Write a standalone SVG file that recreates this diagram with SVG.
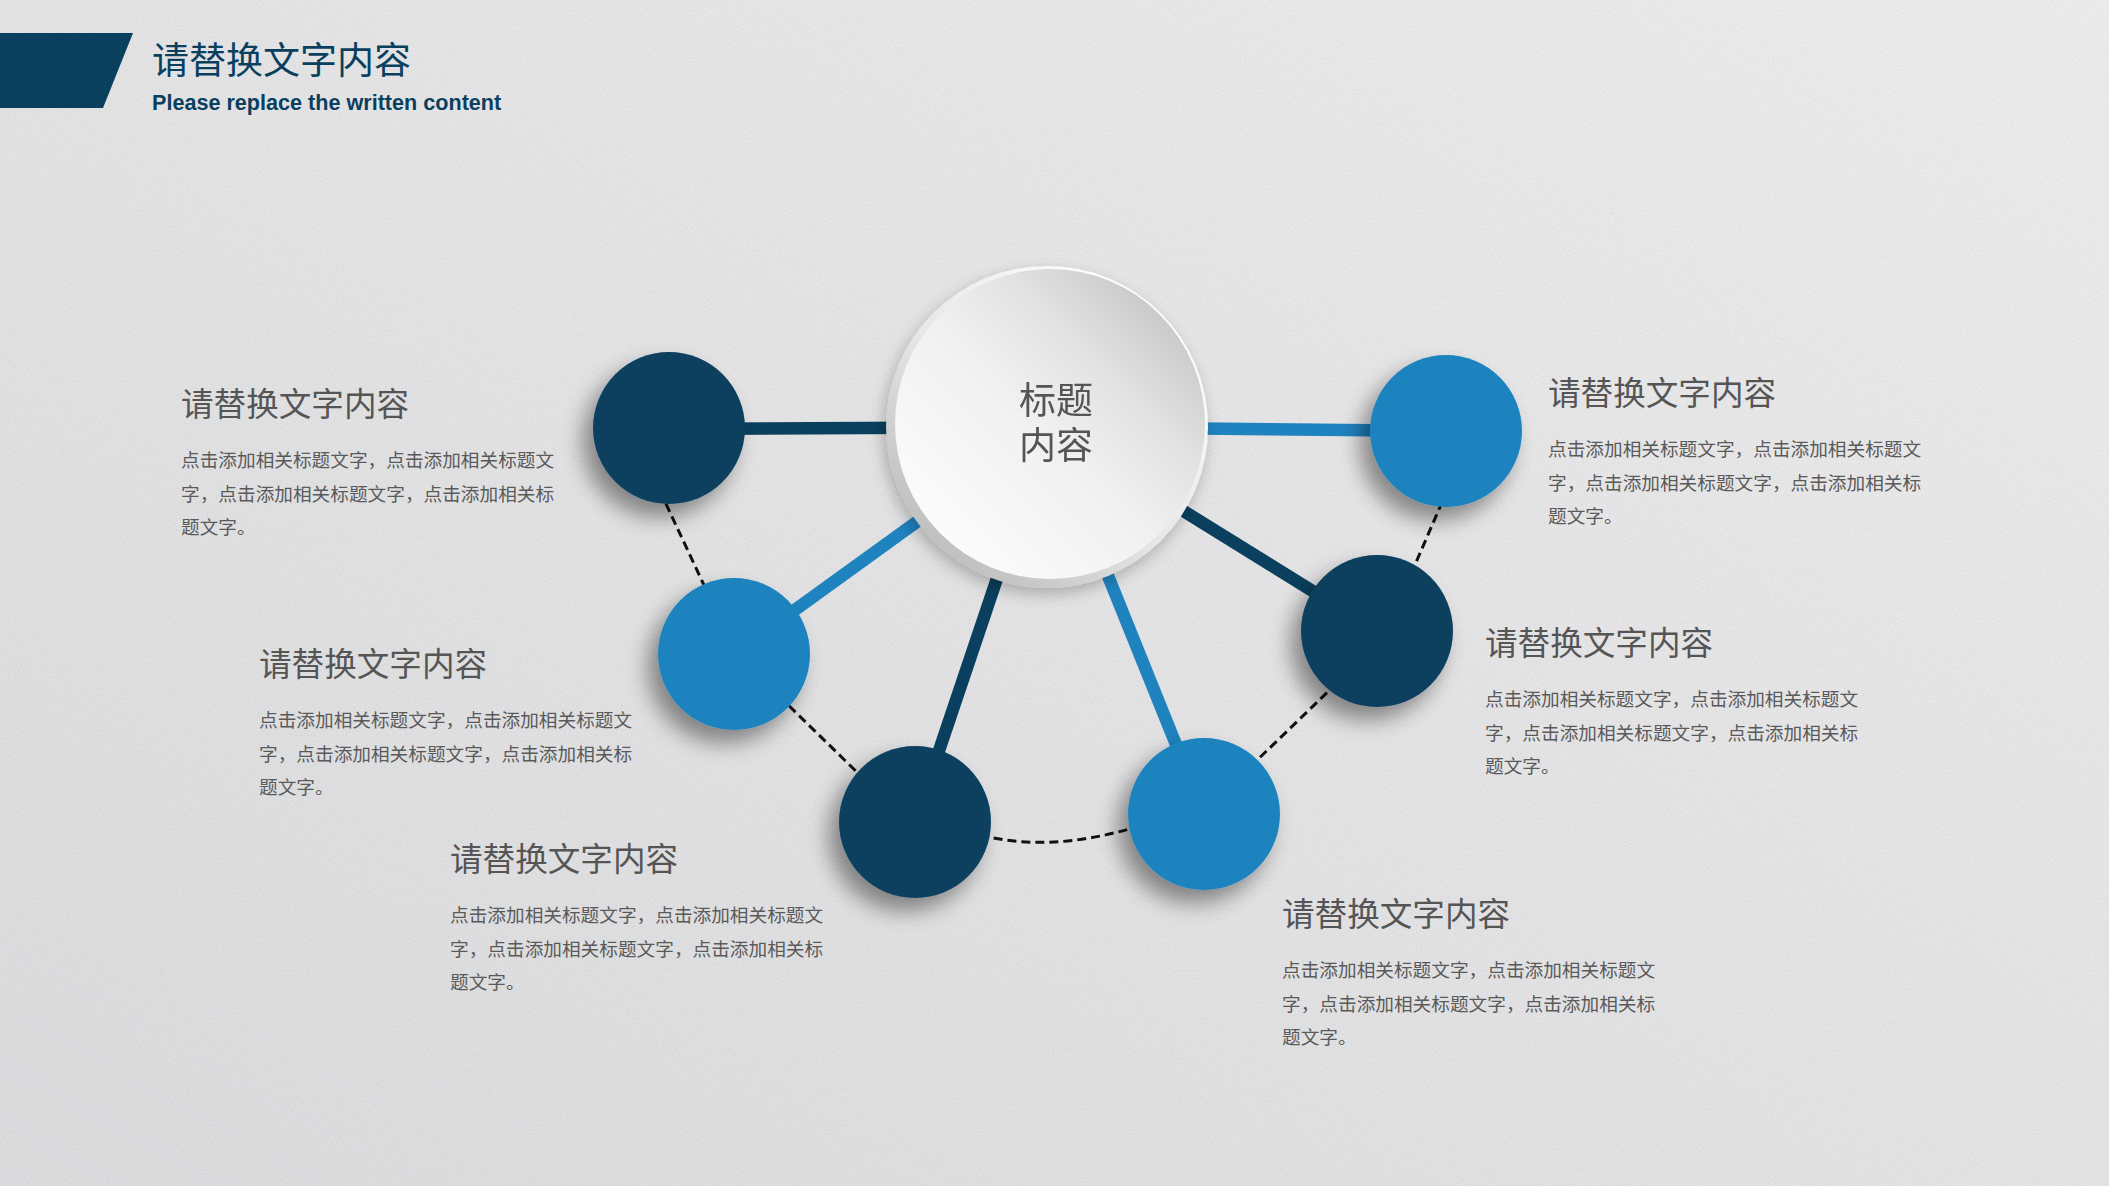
<svg xmlns="http://www.w3.org/2000/svg" width="2109" height="1186" viewBox="0 0 2109 1186">
  <defs>
    <linearGradient id="bg" x1="0" y1="1" x2="1" y2="0">
      <stop offset="0" stop-color="#e0e1e3"/>
      <stop offset="0.5" stop-color="#ebebed"/>
      <stop offset="1" stop-color="#f6f6f7"/>
    </linearGradient>
    <filter id="noise" x="0" y="0" width="100%" height="100%">
      <feTurbulence type="fractalNoise" baseFrequency="0.85" numOctaves="2" seed="4" result="t"/>
      <feColorMatrix in="t" type="matrix" values="0.33 0.33 0.33 0 0  0.33 0.33 0.33 0 0  0.33 0.33 0.33 0 0  0 0 0 0 0.2"/>
    </filter>
    <filter id="sh" x="-60%" y="-60%" width="220%" height="220%">
      <feGaussianBlur in="SourceAlpha" stdDeviation="11"/>
      <feOffset dx="-10" dy="13" result="o"/>
      <feComponentTransfer><feFuncA type="linear" slope="0.42"/></feComponentTransfer>
      <feMerge><feMergeNode/><feMergeNode in="SourceGraphic"/></feMerge>
    </filter>
    <filter id="shc" x="-40%" y="-40%" width="180%" height="180%">
      <feGaussianBlur in="SourceAlpha" stdDeviation="8"/>
      <feOffset dx="-3" dy="6"/>
      <feComponentTransfer><feFuncA type="linear" slope="0.25"/></feComponentTransfer>
      <feMerge><feMergeNode/><feMergeNode in="SourceGraphic"/></feMerge>
    </filter>
    <linearGradient id="ring" x1="0.15" y1="0.9" x2="0.85" y2="0.1">
      <stop offset="0" stop-color="#bdbdbd"/>
      <stop offset="0.45" stop-color="#e6e6e6"/>
      <stop offset="1" stop-color="#ffffff"/>
    </linearGradient>
    <linearGradient id="face" x1="0.15" y1="0.85" x2="0.85" y2="0.15">
      <stop offset="0" stop-color="#fbfbfb"/>
      <stop offset="0.45" stop-color="#f1f1f1"/>
      <stop offset="0.75" stop-color="#e2e2e2"/>
      <stop offset="1" stop-color="#cbcbcb"/>
    </linearGradient>
    <style>
      .dark { fill: #0a405e; }
      .light { fill: #1f83bf; }
      .ld { stroke: #0a405e; stroke-width: 12.5; fill: none; }
      .ll { stroke: #1f83bf; stroke-width: 12.5; fill: none; }
      .dash { stroke: #111; stroke-width: 3; stroke-dasharray: 9 5; fill: none; }
      .hd { font-family: "Noto Sans CJK SC", "Noto Sans", sans-serif; font-size: 32.6px; fill: #555555; }
      .bd { font-family: "Noto Sans CJK SC", "Noto Sans", sans-serif; font-size: 18.67px; fill: #5a5a5a; }
    </style>
  </defs>

  <rect width="2109" height="1186" fill="url(#bg)"/>
  <rect width="2109" height="1186" filter="url(#noise)"/>

  <g id="header">
    <polygon points="0,33 133,33 103,108 0,108" fill="#0a405e"/>
    <text x="152" y="73.5" font-family="Noto Sans CJK SC, sans-serif" font-size="37" fill="#0a405e">请替换文字内容</text>
    <text x="152" y="110" font-family="Liberation Sans, Arial, sans-serif" font-size="21.6" font-weight="bold" fill="#0a405e">Please replace the written content</text>
  </g>

  <g id="connectors">
    <line class="ld" x1="669" y1="429" x2="1048" y2="427"/>
    <line class="ll" x1="734" y1="654" x2="1048" y2="427"/>
    <line class="ld" x1="915" y1="822" x2="1048" y2="427"/>
    <line class="ll" x1="1204" y1="814" x2="1048" y2="427"/>
    <line class="ld" x1="1377" y1="631" x2="1048" y2="427"/>
    <line class="ll" x1="1446" y1="431" x2="1048" y2="427"/>
    <path class="dash" d="M660 491 L710 598"/>
    <path class="dash" d="M779 696 L864 779"/>
    <path class="dash" d="M980 835 Q1050 853 1136 827"/>
    <path class="dash" d="M1250 767 L1336 684"/>
    <path class="dash" d="M1411 574 L1443 500"/>
  </g>

  <g id="node-center" filter="url(#shc)">
    <circle cx="1047" cy="427" r="161" fill="url(#ring)"/>
    <circle cx="1050" cy="424" r="155" fill="url(#face)"/>
    <text text-anchor="middle" font-family="Noto Sans CJK SC, sans-serif" font-size="37" fill="#555555"><tspan x="1056" y="414">标题</tspan><tspan x="1056" y="459">内容</tspan></text>
  </g>

  <g id="node-1">
    <circle class="dark" cx="669" cy="428" r="76" filter="url(#sh)"/>
    <text class="hd" x="181" y="416">请替换文字内容</text>
    <text class="bd" x="181" y="467">点击添加相关标题文字，点击添加相关标题文</text>
    <text class="bd" x="181" y="501">字，点击添加相关标题文字，点击添加相关标</text>
    <text class="bd" x="181" y="534">题文字。</text>
  </g>

  <g id="node-2">
    <circle class="light" cx="734" cy="654" r="76" filter="url(#sh)"/>
    <text class="hd" x="259" y="675.5">请替换文字内容</text>
    <text class="bd" x="259" y="726.5">点击添加相关标题文字，点击添加相关标题文</text>
    <text class="bd" x="259" y="760.5">字，点击添加相关标题文字，点击添加相关标</text>
    <text class="bd" x="259" y="793.5">题文字。</text>
  </g>

  <g id="node-3">
    <circle class="dark" cx="915" cy="822" r="76" filter="url(#sh)"/>
    <text class="hd" x="450" y="870.5">请替换文字内容</text>
    <text class="bd" x="450" y="921.5">点击添加相关标题文字，点击添加相关标题文</text>
    <text class="bd" x="450" y="955.5">字，点击添加相关标题文字，点击添加相关标</text>
    <text class="bd" x="450" y="988.5">题文字。</text>
  </g>

  <g id="node-4">
    <circle class="light" cx="1204" cy="814" r="76" filter="url(#sh)"/>
    <text class="hd" x="1282" y="925.5">请替换文字内容</text>
    <text class="bd" x="1282" y="976.5">点击添加相关标题文字，点击添加相关标题文</text>
    <text class="bd" x="1282" y="1010.5">字，点击添加相关标题文字，点击添加相关标</text>
    <text class="bd" x="1282" y="1043.5">题文字。</text>
  </g>

  <g id="node-5">
    <circle class="dark" cx="1377" cy="631" r="76" filter="url(#sh)"/>
    <text class="hd" x="1485" y="655">请替换文字内容</text>
    <text class="bd" x="1485" y="706">点击添加相关标题文字，点击添加相关标题文</text>
    <text class="bd" x="1485" y="740">字，点击添加相关标题文字，点击添加相关标</text>
    <text class="bd" x="1485" y="773">题文字。</text>
  </g>

  <g id="node-6">
    <circle class="light" cx="1446" cy="431" r="76" filter="url(#sh)"/>
    <text class="hd" x="1548" y="405">请替换文字内容</text>
    <text class="bd" x="1548" y="456">点击添加相关标题文字，点击添加相关标题文</text>
    <text class="bd" x="1548" y="490">字，点击添加相关标题文字，点击添加相关标</text>
    <text class="bd" x="1548" y="523">题文字。</text>
  </g>
</svg>
